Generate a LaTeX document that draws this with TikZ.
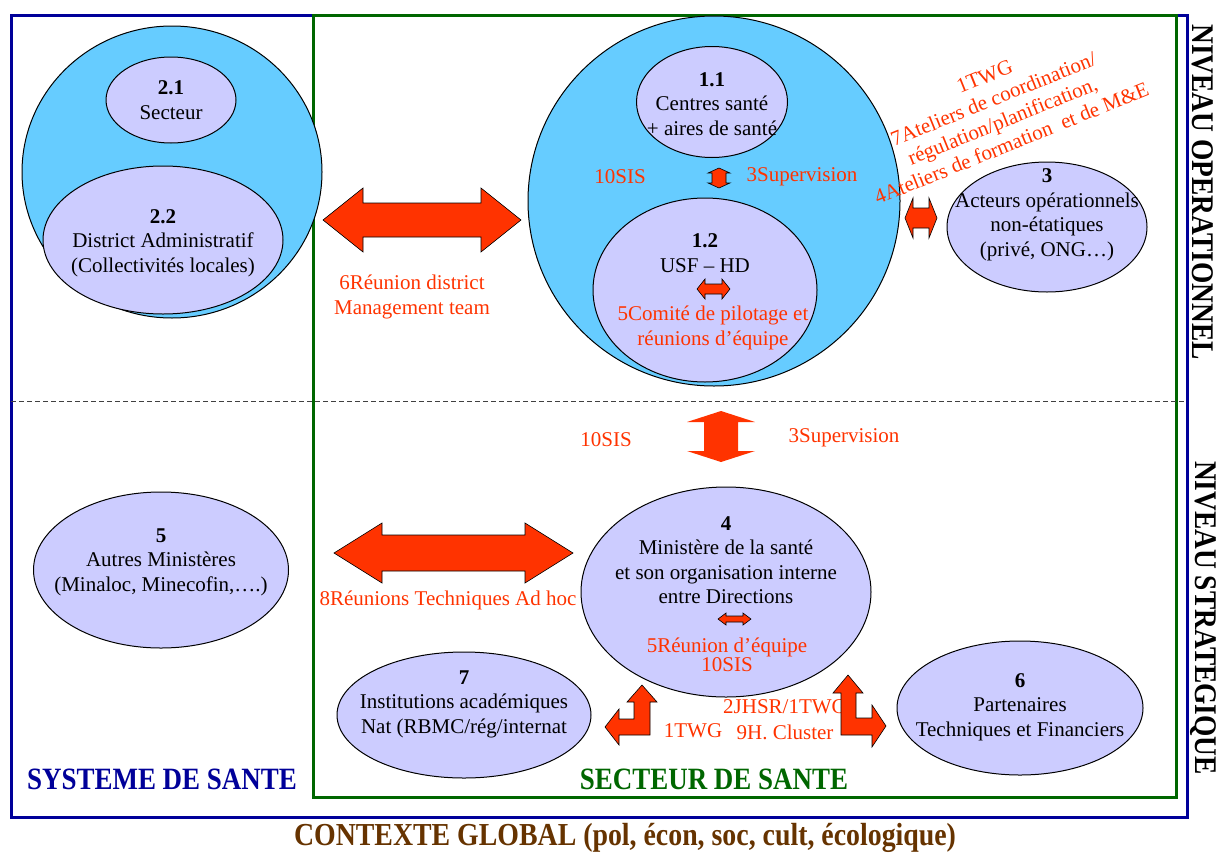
\documentclass[tikz,border=0pt]{standalone}
\usepackage{fontspec}
\setmainfont{Liberation Serif}
\usetikzlibrary{shapes.geometric}

\definecolor{zonecyan}{HTML}{66CCFF}
\definecolor{unitlav}{HTML}{CCCCFF}
\definecolor{linkred}{HTML}{FF3300}
\definecolor{sysblue}{HTML}{000099}
\definecolor{secgreen}{HTML}{006600}
\definecolor{ctxbrown}{HTML}{663300}

\tikzset{
  zone/.style={ellipse, draw=black, line width=1pt, fill=zonecyan, inner sep=0pt},
  unit/.style={ellipse, draw=black, line width=1pt, fill=unitlav, inner sep=0pt},
  lbl/.style={font=\fontsize{21}{24.5}\selectfont, align=center, inner sep=0pt},
  note/.style={lbl, text=linkred},
  blk/.style={fill=linkred, draw=black, line width=0.6pt, line join=miter},
  blkplain/.style={fill=linkred, draw=none},
  heading/.style={font=\fontsize{31}{31}\selectfont\bfseries, inner sep=0pt},
}

% horizontal double block arrow: [style] x1 x2 y shaft-half head-half head-length
\newcommand\hdarrow[7][blk]{%
  \draw[#1] (#2,#4) -- (#2+#7,#4-#6) -- (#2+#7,#4-#5) -- (#3-#7,#4-#5)
    -- (#3-#7,#4-#6) -- (#3,#4) -- (#3-#7,#4+#6) -- (#3-#7,#4+#5)
    -- (#2+#7,#4+#5) -- (#2+#7,#4+#6) -- cycle;}
% vertical double block arrow: [style] x y1 y2 shaft-half head-half head-length
\newcommand\vdarrow[7][blk]{%
  \draw[#1] (#2,#3) -- (#2+#6,#3+#7) -- (#2+#5,#3+#7) -- (#2+#5,#4-#7)
    -- (#2+#6,#4-#7) -- (#2,#4) -- (#2-#6,#4-#7) -- (#2-#5,#4-#7)
    -- (#2-#5,#3+#7) -- (#2-#6,#3+#7) -- cycle;}
\newcommand\cond[1]{\scalebox{0.87}[1]{#1}}

\begin{document}
\begin{tikzpicture}[x=1pt, y=-1pt]
\useasboundingbox (0,0) rectangle (1220,854);

% frames
\draw[sysblue, line width=3pt] (11,15) rectangle (1187,817);
\draw[secgreen, line width=3pt] (313,15) rectangle (1176,797);
\draw[dashed, dash pattern=on 5pt off 3pt, line width=0.8pt, black!75] (11,401) -- (1187,401);

% operational level
\node[zone, minimum width=300pt, minimum height=292pt] (sys) at (172,172) {};
\node[unit, minimum width=130pt, minimum height=86pt] (u21) at (171,100) {};
\node[unit, minimum width=240pt, minimum height=148pt] (u22) at (163,240) {};
\node[zone, minimum width=372pt, minimum height=370pt] (fac) at (714,201) {};
\node[unit, minimum width=151pt, minimum height=111pt] (u11) at (712,102) {};
\node[unit, minimum width=224pt, minimum height=184pt] (u12) at (705,290) {};
\node[unit, minimum width=200pt, minimum height=130pt] (u3) at (1047,227) {};

% strategic level
\node[unit, minimum width=255pt, minimum height=156pt] (u5) at (161,570) {};
\node[unit, minimum width=290pt, minimum height=210pt] (u4) at (726,592) {};
\node[unit, minimum width=254pt, minimum height=126pt] (u7) at (464,715) {};
\node[unit, minimum width=246pt, minimum height=134pt] (u6) at (1020,708) {};

% unit labels
\node[lbl] (t21) at (u21.center) {\textbf{2.1}\\Secteur};
\node[lbl] (t22) at (163,243) {\textbf{2.2}\\District Administratif\\(Collectivités locales)};
\node[lbl] (t11) at (712,104) {\textbf{1.1}\\Centres santé\\+ aires de santé};
\node[lbl] (t12) at (705,253) {\textbf{1.2}\\USF – HD};
\node[lbl] (t3) at (1047,215) {\textbf{3}\\Acteurs opérationnels\\non-étatiques\\(privé, ONG…)};
\node[lbl] (t5) at (161,562) {\textbf{5}\\Autres Ministères\\(Minaloc, Minecofin,….)};
\node[lbl] (t4) at (726,560) {\textbf{4}\\Ministère de la santé\\et son organisation interne\\entre Directions};
\node[lbl] (t7) at (464,704) {\textbf{7}\\Institutions académiques\\Nat (RBMC/rég/internat};
\node[lbl] (t6) at (1020,707) {\textbf{6}\\Partenaires\\Techniques et Financiers};

% exchange mechanisms
\node[note] (n1) at (620,177) {10SIS};
\node[note] (n2) at (802,177) {3Supervision};
\node[note] (n3) at (412,297) {6Réunion district\\Management team};
\node[note] (n4) at (713,328) {5Comité de pilotage et\\réunions d’équipe};
\node[note] (n5) at (606,440) {10SIS};
\node[note] (n6) at (844,438) {3Supervision};
\node[note] (n7) at (448,600) {8Réunions Techniques Ad hoc};
\node[note, font=\fontsize{21}{17}\selectfont] (n8) at (727,655) {5Réunion d’équipe\\10SIS};
\node[note, font=\fontsize{21}{26}\selectfont] (n9) at (785,720) {2JHSR/1TWG\\9H. Cluster};
\node[note] (n10) at (693,731) {1TWG};
\node[note, rotate=22, font=\fontsize{21}{24}\selectfont] (n11) at (998,110)
  {1TWG\\7Ateliers de coordination/\\régulation/planification,\\4Ateliers de formation\ \ et de M\&E};

% block arrows
\hdarrow{323}{521}{220}{17}{32}{40}
\hdarrow{334}{573}{553}{18}{30}{48}
\vdarrow[blkplain]{721}{411}{462}{17}{34}{11}
\vdarrow{719}{168}{188}{7}{11}{5}
\hdarrow{697}{730}{289}{5}{10}{8}
\hdarrow{905}{937}{218}{10}{20}{8}
\hdarrow{718}{751}{619}{3}{6}{8}
% bent arrows towards 7 and 6
\draw[blk] (642,685) -- (657,702) -- (650,702) -- (650,735) -- (619,735)
  -- (619,745) -- (605,727) -- (619,709) -- (619,719) -- (634,719)
  -- (634,702) -- (627,702) -- cycle;
\draw[blk] (848,675) -- (863,693) -- (856,693) -- (856,718) -- (872,718)
  -- (872,705) -- (886,726) -- (872,747) -- (872,735) -- (841,735)
  -- (841,693) -- (833,693) -- cycle;

% headings
\node[heading, text=sysblue] (hsys) at (162,779) {\cond{SYSTEME DE SANTE}};
\node[heading, text=secgreen] (hsec) at (714,779) {\cond{SECTEUR DE SANTE}};
\node[heading, text=ctxbrown, font=\fontsize{32}{32}\selectfont\bfseries] (hctx) at (625,838)
  {\cond{CONTEXTE GLOBAL (pol, écon, soc, cult, écologique)}};
\node[heading, rotate=-90, font=\fontsize{31.5}{31.5}\selectfont\bfseries] (hop) at (1203,192) {\cond{NIVEAU OPERATIONNEL}};
\node[heading, rotate=-90, font=\fontsize{31.5}{31.5}\selectfont\bfseries] (hst) at (1203,618) {\cond{NIVEAU STRATEGIQUE}};
\end{tikzpicture}
\end{document}
